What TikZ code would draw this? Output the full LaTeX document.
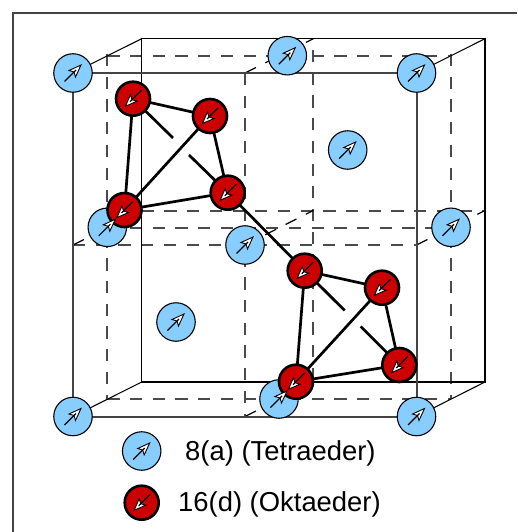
\documentclass[tikz,border=0pt]{standalone}
\usepackage{fontspec}
\setmainfont{Liberation Sans}
\definecolor{tetra}{HTML}{87CEFF}
\definecolor{okta}{HTML}{CC0000}
\definecolor{hidden}{HTML}{4A4A4A}
\definecolor{framegray}{HTML}{444444}
\tikzset{
  frontline/.style={draw=framegray,line width=2pt},
  backline/.style={draw=black,line width=1.05pt},
  hiddenline/.style={draw=hidden,line width=2pt,dash pattern=on 12.2pt off 10.5pt},
  hiddenslant/.style={draw=black,line width=1.2pt,dash pattern=on 12.2pt off 10.5pt},
  bondline/.style={draw=black,line width=2.7pt},
  tetraatom/.style={circle,draw=black,line width=1.1pt,fill=tetra,minimum size=38.5pt,inner sep=0pt,outer sep=0pt},
  oktaatom/.style={circle,draw=black,line width=2.6pt,fill=okta,minimum size=34pt,inner sep=0pt,outer sep=0pt},
  legendtext/.style={font=\fontsize{27.4pt}{30pt}\selectfont,text=black,inner sep=0pt,anchor=base west}
}
\newcommand{\spinup}[1]{%
  \draw[black,line width=.9pt,fill=white,line join=miter] ([shift={(8,-8)}]#1.center) -- ([shift={(-4,-2.5)}]#1.center) -- ([shift={(1,-1)}]#1.center) -- ([shift={(2.5,4)}]#1.center) -- cycle;
  \draw[black,line width=1.2pt] ([shift={(-8.5,8.5)}]#1.center) -- ([shift={(3,-3)}]#1.center);
}
\newcommand{\spindown}[1]{%
  \draw[black,line width=.9pt,fill=white,line join=miter] ([shift={(-7.5,7.5)}]#1.center) -- ([shift={(4,2.5)}]#1.center) -- ([shift={(-1,1)}]#1.center) -- ([shift={(-2.5,-4)}]#1.center) -- cycle;
  \draw[black,line width=1.2pt] ([shift={(8.5,-8.5)}]#1.center) -- ([shift={(-3,3)}]#1.center);
}
\begin{document}
\begin{tikzpicture}[x=1pt,y=-1pt]
\useasboundingbox (0,0) rectangle (517,532);
\coordinate (fa) at (13,13); \coordinate (fb) at (517,13); \coordinate (fc) at (13,532);
\draw[framegray,line width=2pt] (fc) -- (fa) -- (fb);
% cube corners: f front, b back
\coordinate (f1) at (73,73); \coordinate (f2) at (416.5,73); \coordinate (f3) at (416.5,416.5); \coordinate (f4) at (73,416.5);
\coordinate (b1) at (141.7,38.7); \coordinate (b2) at (485,38.7); \coordinate (b3) at (485,382); \coordinate (b4) at (141.7,382);
% mid planes
\coordinate (m1) at (107.3,56); \coordinate (m2) at (451,56); \coordinate (m3) at (451,399.3); \coordinate (m4) at (107.3,399.3);
\coordinate (mv1) at (107.3,54); \coordinate (mv2) at (451,54);
\coordinate (mh1) at (107.3,227.7); \coordinate (mh2) at (451,227.7);
\coordinate (ft) at (245,73); \coordinate (fbm) at (245,416.5); \coordinate (fl) at (73,245); \coordinate (fr) at (416.5,245); \coordinate (fm) at (245,245);
\coordinate (bt) at (313.3,38.7); \coordinate (btv) at (313.3,50); \coordinate (bbm) at (313.3,382); \coordinate (bl) at (141.7,210.5); \coordinate (br) at (485,210.5); \coordinate (bm) at (313.3,210.5);
% hidden lines
\draw[hiddenline] (m1) -- (m2);
\draw[hiddenline] (m4) -- (m3);
\draw[hiddenline] (mv1) -- (m4);
\draw[hiddenline] (mv2) -- (m3);
\draw[hiddenline] (mh1) -- (mh2);
\draw[hiddenline] (ft) -- (fbm);
\draw[hiddenline] (fl) -- (fr);
\draw[hiddenline] (btv) -- (bbm);
\draw[hiddenline] (bl) -- (br);
\draw[hiddenslant] (ft) -- (bt);
\draw[hiddenslant] (fl) -- (bl);
\draw[hiddenslant] (fr) -- (br);
\draw[hiddenslant] (fm) -- (bm);
\draw[hiddenslant] (fbm) -- (bbm);
% solid cube
\draw[backline] (b1) -- (b2) -- (b3) -- (b4) -- cycle;
\draw[backline] (f1) -- (b1) (f2) -- (b2) (f3) -- (b3) (f4) -- (b4);
\draw[frontline] (f1) -- (f2) -- (f3) -- (f4) -- cycle;
% tetraeder atoms
\foreach \n/\x/\y in {t1/73/73,t2/416.5/73,t3/73/416.5,t4/416.5/416.5,t5/287.3/55.7,t6/347.7/150,t7/451/227.3,t8/107.3/227.3,t9/245/245,t10/176/322,t11/279/399,t12/141.7/451}{
  \node[tetraatom] (\n) at (\x,\y) {};
}
% oktaeder atoms
\foreach \n/\x/\y in {r1/133/98.7,r2/210/116,r3/227.7/192.7,r4/124.5/210,r5/304.7/270.7,r6/382/287.7,r7/399.3/365,r8/296/381.7,r9/141.7/502.7}{
  \node[oktaatom] (\n) at (\x,\y) {};
}
% bonds
\coordinate (g1) at (173,138); \coordinate (g2) at (189,155);
\coordinate (g3) at (344.7,310.5); \coordinate (g4) at (360.7,326.5);
\draw[bondline] (r1) -- (r2);
\draw[bondline] (r2) -- (r3);
\draw[bondline] (r1) -- (r4);
\draw[bondline] (r2) -- (r4);
\draw[bondline] (r3) -- (r4);
\draw[bondline] (r1) -- (g1);
\draw[bondline] (g2) -- (r3);
\draw[bondline] (r3) -- (r5);
\draw[bondline] (r5) -- (r6);
\draw[bondline] (r6) -- (r7);
\draw[bondline] (r5) -- (r8);
\draw[bondline] (r6) -- (r8);
\draw[bondline] (r7) -- (r8);
\draw[bondline] (r5) -- (g3);
\draw[bondline] (g4) -- (r7);
\foreach \n in {t1,t2,t3,t4,t5,t6,t7,t8,t9,t10,t11,t12}{\spinup{\n}}
\foreach \n in {r1,r2,r3,r4,r5,r6,r7,r8,r9}{\spindown{\n}}
\node[legendtext] (la) at (185,460.3) {8(a) (Tetraeder)};
\node[legendtext] (lb) at (178,511) {16(d) (Oktaeder)};
\end{tikzpicture}
\end{document}
